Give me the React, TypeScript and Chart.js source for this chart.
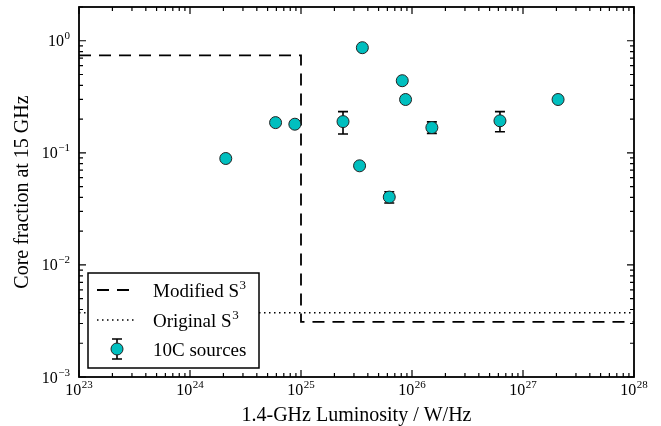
import React, { useEffect, useRef } from "react";
import { Chart, registerables } from "chart.js";

Chart.register(...registerables);

// ---------- data ----------
const luminosity = [2.1e24, 5.9e24, 8.8e24, 2.39e25, 3.57e25, 3.37e25, 8.17e25, 8.75e25, 6.24e25, 1.51e26, 6.2e26, 2.07e27];
const coreFraction = [0.089, 0.186, 0.18, 0.19, 0.867, 0.0766, 0.44, 0.299, 0.0403, 0.168, 0.193, 0.299];
const errLower = [0.089, 0.186, 0.18, 0.147, 0.867, 0.0766, 0.44, 0.299, 0.0357, 0.149, 0.154, 0.299];
const errUpper = [0.089, 0.186, 0.18, 0.233, 0.867, 0.0766, 0.44, 0.299, 0.045, 0.189, 0.233, 0.299];

const modifiedX = [1e23, 1e25, 1e25, 1e28];
const modifiedY = [0.74, 0.74, 0.0031, 0.0031];
const originalX = [1e23, 1e28];
const originalY = [0.00375, 0.00375];

const xTickExponents = [23, 24, 25, 26, 27, 28];
const yTickExponents = [-3, -2, -1, 0];

const legendBase = ["Modified S", "Original S", "10C sources"];
const legendSup = ["3", "3", ""];

const xTitle = "1.4-GHz Luminosity / W/Hz";
const yTitle = "Core fraction at 15 GHz";

const FONT = "'Liberation Serif', 'Times New Roman', 'DejaVu Serif', serif";
const CYAN = "#00BFBF";

function supText(e: number) {
  return e < 0 ? "\u2212" + String(-e) : String(e);
}

function drawPow(ctx: CanvasRenderingContext2D, x: number, baseline: number, exp: string, align: string) {
  const base = `16px ${FONT}`;
  const sup = `11px ${FONT}`;
  ctx.font = base;
  const wb = ctx.measureText("10").width;
  ctx.font = sup;
  const ws = ctx.measureText(exp).width;
  const total = wb + ws + 0.5;
  const x0 = align === "center" ? x - total / 2 : x - total;
  ctx.textAlign = "left";
  ctx.textBaseline = "alphabetic";
  ctx.fillStyle = "#000";
  ctx.font = base;
  ctx.fillText("10", x0, baseline);
  ctx.font = sup;
  ctx.fillText(exp, x0 + wb + 0.5, baseline - 7);
}

const decorPlugin = {
  id: "decor",
  beforeDatasetsDraw(chart: any) {
    const ctx = chart.ctx as CanvasRenderingContext2D;
    const xs = chart.scales.x;
    const ys = chart.scales.y;
    ctx.save();
    ctx.strokeStyle = "#000";
    ctx.lineWidth = 1.6;
    luminosity.forEach((L, i) => {
      if (errUpper[i] === errLower[i]) return;
      const px = xs.getPixelForValue(L);
      const pt = ys.getPixelForValue(errUpper[i]);
      const pb = ys.getPixelForValue(errLower[i]);
      ctx.beginPath();
      ctx.moveTo(px, pt);
      ctx.lineTo(px, pb);
      ctx.moveTo(px - 5, pt);
      ctx.lineTo(px + 5, pt);
      ctx.moveTo(px - 5, pb);
      ctx.lineTo(px + 5, pb);
      ctx.stroke();
    });
    ctx.restore();
  },
  afterDraw(chart: any) {
    const ctx = chart.ctx as CanvasRenderingContext2D;
    const xs = chart.scales.x;
    const ys = chart.scales.y;
    const { left, right, top, bottom } = chart.chartArea;
    ctx.save();

    // ----- legend -----
    const lx = 88, ly = 273, lw = 171, lh = 95;
    ctx.fillStyle = "#fff";
    ctx.fillRect(lx, ly, lw, lh);
    ctx.strokeStyle = "#000";
    ctx.lineWidth = 1.5;
    ctx.strokeRect(lx, ly, lw, lh);
    const rows = [290, 320, 349];
    // dashed sample
    ctx.lineWidth = 1.8;
    ctx.setLineDash([12, 8]);
    ctx.beginPath();
    ctx.moveTo(97, rows[0]);
    ctx.lineTo(137, rows[0]);
    ctx.stroke();
    // dotted sample
    ctx.lineWidth = 1.5;
    ctx.setLineDash([1.5, 3.5]);
    ctx.beginPath();
    ctx.moveTo(97, rows[1]);
    ctx.lineTo(137, rows[1]);
    ctx.stroke();
    ctx.setLineDash([]);
    // marker sample with errorbar
    const mx = 117, my = rows[2];
    ctx.lineWidth = 1.6;
    ctx.beginPath();
    ctx.moveTo(mx, my - 10);
    ctx.lineTo(mx, my + 10);
    ctx.moveTo(mx - 5, my - 10);
    ctx.lineTo(mx + 5, my - 10);
    ctx.moveTo(mx - 5, my + 10);
    ctx.lineTo(mx + 5, my + 10);
    ctx.stroke();
    ctx.beginPath();
    ctx.arc(mx, my, 6, 0, Math.PI * 2);
    ctx.fillStyle = CYAN;
    ctx.fill();
    ctx.lineWidth = 1;
    ctx.strokeStyle = "#222";
    ctx.stroke();
    // legend text
    ctx.fillStyle = "#000";
    ctx.textAlign = "left";
    ctx.textBaseline = "alphabetic";
    legendBase.forEach((t, i) => {
      const bl = rows[i] + 6.5;
      ctx.font = `19px ${FONT}`;
      ctx.fillText(t, 153, bl);
      const w = ctx.measureText(t).width;
      if (legendSup[i]) {
        ctx.font = `13px ${FONT}`;
        ctx.fillText(legendSup[i], 153 + w + 0.5, bl - 7.5);
      }
    });

    // ----- frame -----
    ctx.strokeStyle = "#000";
    ctx.lineWidth = 1.8;
    ctx.strokeRect(left, top, right - left, bottom - top);

    // ----- ticks -----
    ctx.lineWidth = 1.2;
    ctx.beginPath();
    const xMaxExp = xTickExponents[xTickExponents.length - 1];
    for (let e = xTickExponents[0]; e <= xMaxExp; e++) {
      for (let k = 1; k <= 9; k++) {
        const v = k * Math.pow(10, e);
        if (v > Math.pow(10, xMaxExp) * 1.0001) break;
        const px = xs.getPixelForValue(v);
        const len = k === 1 ? 7 : 4;
        ctx.moveTo(px, bottom);
        ctx.lineTo(px, bottom - len);
        ctx.moveTo(px, top);
        ctx.lineTo(px, top + len);
      }
    }
    for (let e = yTickExponents[0]; e <= yTickExponents[yTickExponents.length - 1]; e++) {
      for (let k = 1; k <= 9; k++) {
        const v = k * Math.pow(10, e);
        if (v > ys.max * 1.0001) break;
        const py = ys.getPixelForValue(v);
        const len = k === 1 ? 7 : 4;
        ctx.moveTo(left, py);
        ctx.lineTo(left + len, py);
        ctx.moveTo(right, py);
        ctx.lineTo(right - len, py);
      }
    }
    ctx.stroke();

    // ----- tick labels -----
    xTickExponents.forEach((e) => {
      const px = xs.getPixelForValue(Math.pow(10, e));
      drawPow(ctx, px, bottom + 18, supText(e), "center");
    });
    yTickExponents.forEach((e) => {
      const py = ys.getPixelForValue(Math.pow(10, e));
      drawPow(ctx, left - 9, py + 5.5, supText(e), "right");
    });
    ctx.restore();
  },
};

export default function App() {
  const ref = useRef<HTMLCanvasElement | null>(null);
  useEffect(() => {
    document.body.style.margin = "0";
    const canvas = ref.current;
    if (!canvas) return;
    const chart = new Chart(canvas, {
      type: "scatter",
      data: {
        datasets: [
          {
            label: "10C sources",
            data: luminosity.map((x, i) => ({ x, y: coreFraction[i] })),
            backgroundColor: CYAN,
            borderColor: "#222",
            borderWidth: 1,
            pointRadius: 6,
            pointHoverRadius: 6,
            showLine: false,
          },
          {
            label: "Modified S3",
            data: modifiedX.map((x, i) => ({ x, y: modifiedY[i] })),
            showLine: true,
            borderColor: "#000",
            borderWidth: 1.8,
            borderDash: [12, 8],
            pointRadius: 0,
            fill: false,
            tension: 0,
          },
          {
            label: "Original S3",
            data: originalX.map((x, i) => ({ x, y: originalY[i] })),
            showLine: true,
            borderColor: "#000",
            borderWidth: 1.5,
            borderDash: [1.5, 3.5],
            pointRadius: 0,
            fill: false,
            tension: 0,
          },
        ],
      },
      options: {
        responsive: false,
        animation: false,
        events: [],
        layout: { padding: { left: 0, top: 7, right: 27, bottom: 0 } },
        plugins: { legend: { display: false }, tooltip: { enabled: false } },
        scales: {
          x: {
            type: "logarithmic",
            position: "bottom",
            min: 1e23,
            max: 1e28,
            grid: { display: false },
            border: { display: false },
            ticks: { display: false },
            title: {
              display: true,
              text: xTitle,
              color: "#000",
              font: { family: FONT, size: 20, lineHeight: 1 },
              padding: { top: 0, bottom: 0 },
            },
            afterFit: (s: any) => {
              s.height = 49;
            },
          },
          y: {
            type: "logarithmic",
            position: "left",
            min: 1e-3,
            max: 2,
            grid: { display: false },
            border: { display: false },
            ticks: { display: false },
            title: {
              display: true,
              text: yTitle,
              color: "#000",
              font: { family: FONT, size: 20, lineHeight: 1 },
              padding: { top: 12.5, bottom: 0 },
            },
            afterFit: (s: any) => {
              s.width = 79;
            },
          },
        },
      },
      plugins: [decorPlugin],
    } as any);
    return () => chart.destroy();
  }, []);
  return (
    <div style={{ width: 661, height: 426, background: "#fff" }}>
      <canvas ref={ref} width={661} height={426} style={{ width: 661, height: 426, display: "block" }} />
    </div>
  );
}
